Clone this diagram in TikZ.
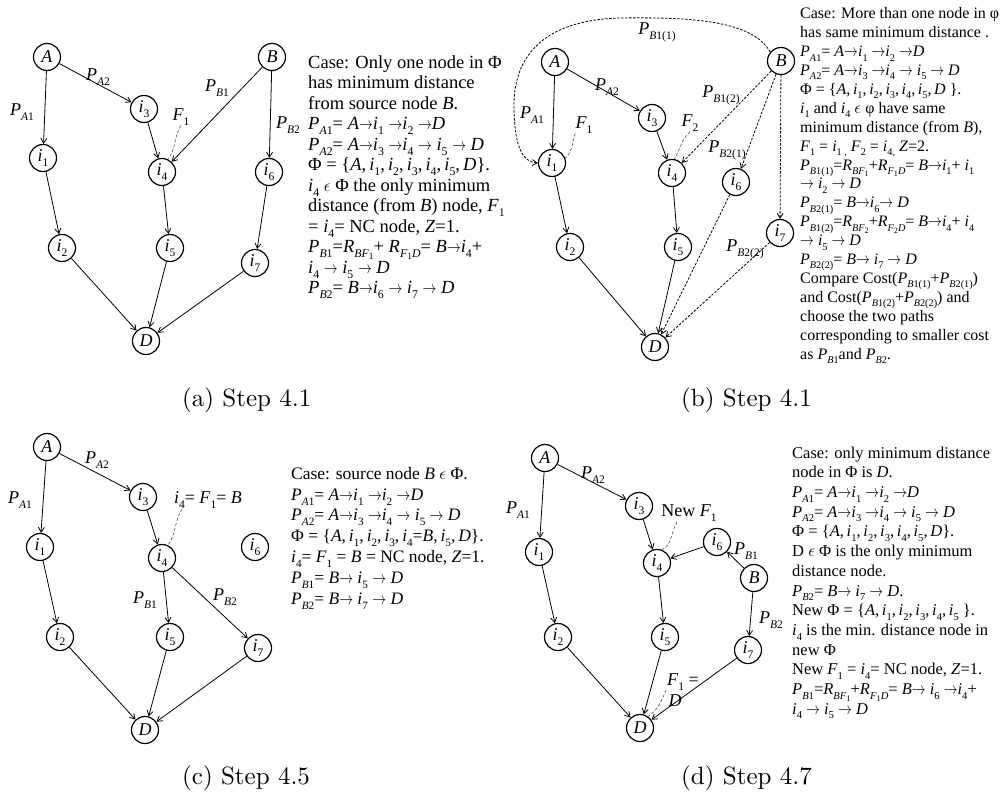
\documentclass[tikz,border=0pt]{standalone}
\usepackage{fontspec}
\usepackage{graphicx}
\newfontfamily\tms{Liberation Serif}
\usetikzlibrary{arrows.meta}
\newcommand\sbs[1]{\raisebox{-0.28em}{\scalebox{0.64}{#1}}}
\newcommand\sbsb[1]{\raisebox{-0.18em}{\scalebox{0.8}{#1}}}
\newcommand\ndI[1]{\textit{i}\sbs{#1}}
\newcommand\pthP[1]{\textit{P}\sbs{#1}}
\newcommand\rtR[1]{\textit{R}\sbs{#1}}
\newcommand\ndF[1]{\textit{F}\sbs{#1}}
\newcommand\eps{$\epsilon$}
\newcommand\arw{\scalebox{0.8}[1]{$\rightarrow$}}
\newcommand\capbox[1]{\scalebox{2.5}{\fontsize{10}{12}\selectfont #1}}
\tikzset{
 vtx/.style={circle, draw, line width=1.2pt, minimum size=27pt, inner sep=0pt, font=\tms\fontsize{18}{18}\selectfont},
 arr/.style={-{Straight Barb[length=5pt,width=6pt]}, line width=0.8pt},
 darr/.style={arr, dash pattern=on 2.5pt off 1.5pt},
 lead/.style={line width=0.6pt, black!70, dash pattern=on 3pt off 2pt},
 lbl/.style={font=\tms\fontsize{18}{18}\selectfont, inner sep=0pt},
 txtA/.style={anchor=north west, align=left, inner sep=0pt, font=\tms\fontsize{18.5}{20.5}\selectfont},
 txtB/.style={anchor=north west, align=left, inner sep=0pt, font=\tms\fontsize{16}{18.9}\selectfont},
 txtC/.style={anchor=north west, align=left, inner sep=0pt, font=\tms\fontsize{17.5}{20.8}\selectfont},
 txtD/.style={anchor=north west, align=left, inner sep=0pt, font=\tms\fontsize{16.5}{19.7}\selectfont},
 capt/.style={inner sep=0pt, anchor=base west}
}
\begin{document}
\begin{tikzpicture}[x=1pt,y=-1pt]
\useasboundingbox (0,0) rectangle (1000,805);
% ---------------- panel (a)
\node[vtx] (aA) at (47,57) {\textit{A}};
\node[vtx] (aB) at (272,57) {\textit{B}};
\node[vtx] (ai3) at (144,109) {\ndI{3}};
\node[vtx] (ai1) at (43,158) {\ndI{1}};
\node[vtx] (ai4) at (162,172) {\ndI{4}};
\node[vtx] (ai6) at (269,172) {\ndI{6}};
\node[vtx] (ai2) at (62,248) {\ndI{2}};
\node[vtx] (ai5) at (170,248) {\ndI{5}};
\node[vtx] (ai7) at (255,263) {\ndI{7}};
\node[vtx] (aD) at (146,341) {\textit{D}};
\draw[arr] (aA) -- (ai1);
\draw[arr] (aA) -- (ai3);
\draw[arr] (ai1) -- (ai2);
\draw[arr] (ai3) -- (ai4);
\draw[arr] (aB) -- (ai4);
\draw[arr] (aB) -- (ai6);
\draw[arr] (ai4) -- (ai5);
\draw[arr] (ai6) -- (ai7);
\draw[arr] (ai2) -- (aD);
\draw[arr] (ai5) -- (aD);
\draw[arr] (ai7) -- (aD);
\node[lbl] (aPA1) at (22,112) {\pthP{\textit{A}1}};
\node[lbl] (aPA2) at (98,77) {\pthP{\textit{A}2}};
\node[lbl] (aPB1) at (217,88) {\pthP{\textit{B}1}};
\node[lbl] (aPB2) at (288,125) {\pthP{\textit{B}2}};
\node[lbl] (aF1) at (181,117) {\ndF{1}};
\draw[lead] (aF1.south) .. controls (174,135) and (176,150) .. (ai4.65);
\node[txtA] (atx) at (308,55) {Case: Only one node in Φ\\
has minimum distance\\
from source node \textit{B}.\\
\pthP{\textit{A}1}= \textit{A}\arw\ndI{1} \arw\ndI{2} \arw\textit{D}\\
\pthP{\textit{A}2}= \textit{A}\arw\ndI{3} \arw\ndI{4} \arw{} \ndI{5} \arw{} \textit{D}\\
Φ = \{\textit{A},\,\ndI{1},\,\ndI{2},\,\ndI{3},\,\ndI{4},\,\ndI{5},\,\textit{D}\}.\\
\ndI{4} \eps{} Φ the only minimum\\
distance (from \textit{B}) node, \ndF{1}\\
= \ndI{4}= NC node, \textit{Z}=1.\\
\pthP{\textit{B}1}=\rtR{\textit{BF}\sbsb{1}}+ \rtR{\textit{F}\sbsb{1}\textit{D}}= \textit{B}\arw\ndI{4}+\\
\ndI{4} \arw{} \ndI{5} \arw{} \textit{D}\\
\pthP{\textit{B}2}= \textit{B}\arw\ndI{6} \arw{} \ndI{7} \arw{} \textit{D}};
\node[capt] (acap) at (182,406) {\capbox{(a) Step 4.1}};
% ---------------- panel (b)
\node[vtx] (bA) at (555,62) {\textit{A}};
\node[vtx] (bB) at (781,61) {\textit{B}};
\node[vtx] (bi3) at (652,118) {\ndI{3}};
\node[vtx] (bi1) at (552,163) {\ndI{1}};
\node[vtx] (bi4) at (672,173) {\ndI{4}};
\node[vtx] (bi6) at (736,182) {\ndI{6}};
\node[vtx] (bi7) at (780,233) {\ndI{7}};
\node[vtx] (bi2) at (570,247) {\ndI{2}};
\node[vtx] (bi5) at (678,247) {\ndI{5}};
\node[vtx] (bD) at (655,347) {\textit{D}};
\draw[arr] (bA) -- (bi1);
\draw[arr] (bA) -- (bi3);
\draw[arr] (bi1) -- (bi2);
\draw[arr] (bi3) -- (bi4);
\draw[arr] (bi4) -- (bi5);
\draw[arr] (bi2) -- (bD);
\draw[arr] (bi5) -- (bD);
\draw[darr] (bB) -- (bi4);
\draw[darr] (bB) -- (bi6);
\draw[darr] (bB) -- (bi7);
\draw[darr] (bi6) -- (bD);
\draw[darr] (bi7) -- (bD);
\draw[darr] (bB.140) .. controls (752,20) and (690,17) .. (620,18)
  .. controls (545,20) and (514,55) .. (514,105)
  .. controls (514,150) and (524,162) .. (bi1.west);
\node[lbl] (bPB11) at (657,32) {\pthP{\textit{B}1(1)}};
\node[lbl] (bPA2) at (607,87) {\pthP{\textit{A}2}};
\node[lbl] (bPA1) at (532,115) {\pthP{\textit{A}1}};
\node[lbl] (bF1) at (584,125) {\ndF{1}};
\node[lbl] (bF2) at (690,123) {\ndF{2}};
\node[lbl] (bPB12) at (721,95) {\pthP{\textit{B}1(2)}};
\node[lbl] (bPB21) at (727,150) {\pthP{\textit{B}2(1)}};
\node[lbl] (bPB22) at (745,249) {\pthP{\textit{B}2(2)}};
\draw[lead] (bF1.south west) .. controls (572,140) and (574,150) .. (bi1.20);
\draw[lead] (bF2.south) .. controls (681,140) and (680,150) .. (bi4.80);
\node[txtB] (btx) at (800,7.5) {Case: More than one node in φ\\
has same minimum distance .\\
\pthP{\textit{A}1}= \textit{A}\arw\ndI{1} \arw\ndI{2} \arw\textit{D}\\
\pthP{\textit{A}2}= \textit{A}\arw\ndI{3} \arw\ndI{4} \arw{} \ndI{5} \arw{} \textit{D}\\
Φ = \{\textit{A},\,\ndI{1},\,\ndI{2},\,\ndI{3},\,\ndI{4},\,\ndI{5},\,\textit{D} \}.\\
\ndI{1} and \ndI{4} \eps{} φ have same\\
minimum distance (from \textit{B}),\\
\ndF{1} = \ndI{1 ,} \ndF{2} = \ndI{4,} \textit{Z}=2.\\
\pthP{\textit{B}1(1)}=\rtR{\textit{BF}\sbsb{1}}+\rtR{\textit{F}\sbsb{1}\textit{D}}= \textit{B}\arw\ndI{1}+ \ndI{1}\\
\arw{} \ndI{2} \arw{} \textit{D}\\
\pthP{\textit{B}2(1)}= \textit{B}\arw\ndI{6}\arw{} \textit{D}\\
\pthP{\textit{B}1(2)}=\rtR{\textit{BF}\sbsb{2}}+\rtR{\textit{F}\sbsb{2}\textit{D}}= \textit{B}\arw\ndI{4}+ \ndI{4}\\
\arw{} \ndI{5} \arw{} \textit{D}\\
\pthP{\textit{B}2(2)}= \textit{B}\arw{} \ndI{7} \arw{} \textit{D}\\
Compare Cost(\pthP{\textit{B}1(1)}+\pthP{\textit{B}2(1)})\\
and Cost(\pthP{\textit{B}1(2)}+\pthP{\textit{B}2(2)}) and\\
choose the two paths\\
corresponding to smaller cost\\
as \pthP{\textit{B}1}and \pthP{\textit{B}2}.};
\node[capt] (bcap) at (681,406) {\capbox{(b) Step 4.1}};
% ---------------- panel (c)
\node[vtx] (cA) at (47,447) {\textit{A}};
\node[vtx] (ci3) at (143,497) {\ndI{3}};
\node[vtx] (ci1) at (40,547) {\ndI{1}};
\node[vtx] (ci4) at (162,558) {\ndI{4}};
\node[vtx] (ci6) at (255,547) {\ndI{6}};
\node[vtx] (ci2) at (60,637) {\ndI{2}};
\node[vtx] (ci5) at (170,637) {\ndI{5}};
\node[vtx] (ci7) at (258,648) {\ndI{7}};
\node[vtx] (cD) at (145,730) {\textit{D}};
\draw[arr] (cA) -- (ci1);
\draw[arr] (cA) -- (ci3);
\draw[arr] (ci1) -- (ci2);
\draw[arr] (ci3) -- (ci4);
\draw[arr] (ci4) -- (ci5);
\draw[arr] (ci4) -- (ci7);
\draw[arr] (ci2) -- (cD);
\draw[arr] (ci5) -- (cD);
\draw[arr] (ci7) -- (cD);
\node[lbl] (cPA1) at (20,500) {\pthP{\textit{A}1}};
\node[lbl] (cPA2) at (97,460) {\pthP{\textit{A}2}};
\node[lbl] (cF1) at (208,500) {\ndI{4}= \ndF{1}= \textit{B}};
\node[lbl] (cPB1) at (145,600) {\pthP{\textit{B}1}};
\node[lbl] (cPB2) at (225,597) {\pthP{\textit{B}2}};
\draw[lead] (182,509) .. controls (174,522) and (176,535) .. (ci4.65);
\node[txtC] (ctx) at (291,467) {Case: source node \textit{B} \eps{} Φ.\\
\pthP{\textit{A}1}= \textit{A}\arw\ndI{1} \arw\ndI{2} \arw\textit{D}\\
\pthP{\textit{A}2}= \textit{A}\arw\ndI{3} \arw\ndI{4} \arw{} \ndI{5} \arw{} \textit{D}\\
Φ = \{\textit{A},\,\ndI{1},\,\ndI{2},\,\ndI{3},\,\ndI{4}=\textit{B},\,\ndI{5},\,\textit{D}\}.\\
\ndI{4}= \ndF{1} = \textit{B} = NC node, \textit{Z}=1.\\
\pthP{\textit{B}1}= \textit{B}\arw{} \ndI{5} \arw{} \textit{D}\\
\pthP{\textit{B}2}= \textit{B}\arw{} \ndI{7} \arw{} \textit{D}};
\node[capt] (ccap) at (182,784) {\capbox{(c) Step 4.5}};
% ---------------- panel (d)
\node[vtx] (dA) at (545,458) {\textit{A}};
\node[vtx] (di3) at (639,506) {\ndI{3}};
\node[vtx] (di1) at (539,552) {\ndI{1}};
\node[vtx] (di4) at (657,563) {\ndI{4}};
\node[vtx] (di6) at (717,542) {\ndI{6}};
\node[vtx] (dB) at (754,578) {\textit{B}};
\node[vtx] (di2) at (558,637) {\ndI{2}};
\node[vtx] (di5) at (665,637) {\ndI{5}};
\node[vtx] (di7) at (748,650) {\ndI{7}};
\node[vtx] (dD) at (640,728) {\textit{D}};
\draw[arr] (dA) -- (di1);
\draw[arr] (dA) -- (di3);
\draw[arr] (di1) -- (di2);
\draw[arr] (di3) -- (di4);
\draw[arr] (di6) -- (di4);
\draw[arr] (dB) -- (di6);
\draw[arr] (dB) -- (di7);
\draw[arr] (di4) -- (di5);
\draw[arr] (di2) -- (dD);
\draw[arr] (di5) -- (dD);
\draw[arr] (di7) -- (dD);
\node[lbl] (dPA1) at (518,510) {\pthP{\textit{A}1}};
\node[lbl] (dPA2) at (593,475) {\pthP{\textit{A}2}};
\node[lbl] (dNF1) at (689,513) {New \ndF{1}};
\node[lbl] (dPB1) at (746,551) {\pthP{\textit{B}1}};
\node[lbl] (dPB2) at (771,620) {\pthP{\textit{B}2}};
\node[lbl] (dF1) at (683,682) {\ndF{1} =};
\node[lbl] (dFD) at (675,701) {\textit{D}};
\draw[lead] (677,522) .. controls (670,535) and (672,545) .. (di4.70);
\draw[lead] (666,690) .. controls (662,700) and (658,710) .. (dD.55);
\node[txtD] (dtx) at (792,446.5) {Case: only minimum distance\\
node in Φ is \textit{D}.\\
\pthP{\textit{A}1}= \textit{A}\arw\ndI{1} \arw\ndI{2} \arw\textit{D}\\
\pthP{\textit{A}2}= \textit{A}\arw\ndI{3} \arw\ndI{4} \arw{} \ndI{5} \arw{} \textit{D}\\
Φ = \{\textit{A},\,\ndI{1},\,\ndI{2},\,\ndI{3},\,\ndI{4},\,\ndI{5},\,\textit{D}\}.\\
D \eps{} Φ is the only minimum\\
distance node.\\
\pthP{\textit{B}2}= \textit{B}\arw{} \ndI{7} \arw{} \textit{D}.\\
New Φ = \{\textit{A},\,\ndI{1},\,\ndI{2},\,\ndI{3},\,\ndI{4},\,\ndI{5} \}.\\
\ndI{4} is the min. distance node in\\
new Φ\\
New \ndF{1} = \ndI{4}= NC node, \textit{Z}=1.\\
\pthP{\textit{B}1}=\rtR{\textit{BF}\sbsb{1}}+\rtR{\textit{F}\sbsb{1}\textit{D}}= \textit{B}\arw{} \ndI{6} \arw\ndI{4}+\\
\ndI{4} \arw{} \ndI{5} \arw{} \textit{D}};
\node[capt] (dcap) at (681,784) {\capbox{(d) Step 4.7}};
\end{tikzpicture}
\end{document}
